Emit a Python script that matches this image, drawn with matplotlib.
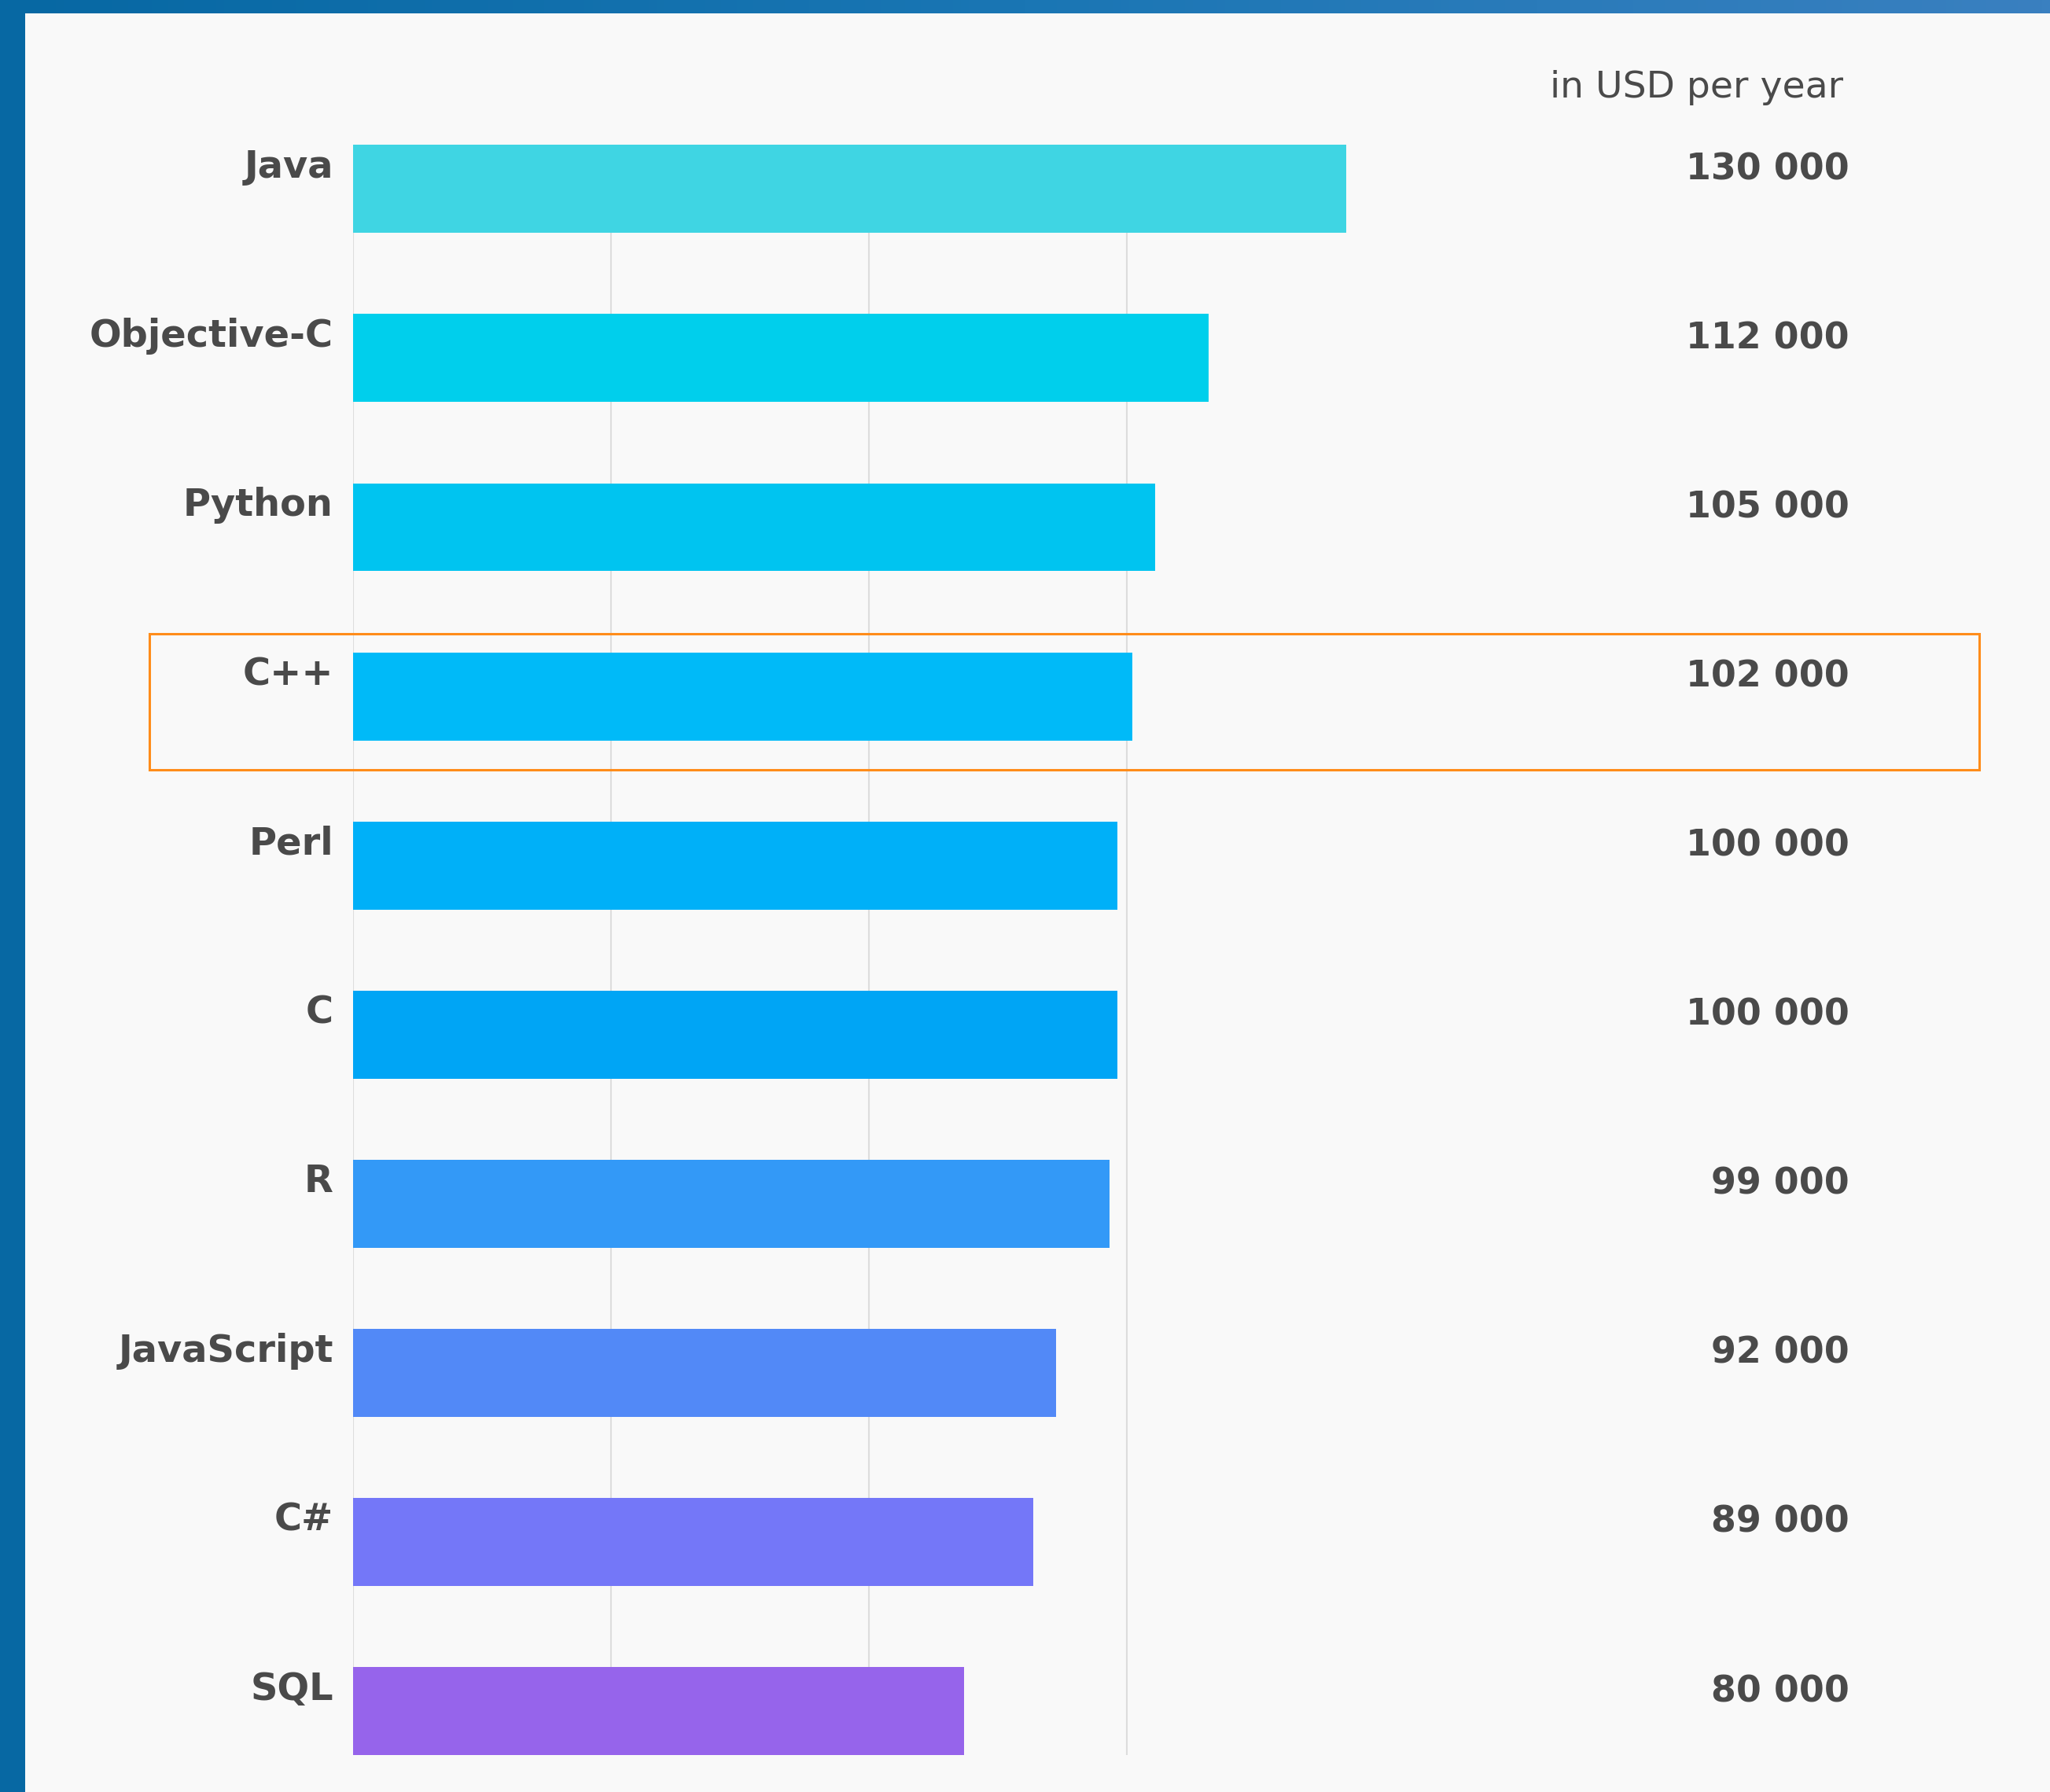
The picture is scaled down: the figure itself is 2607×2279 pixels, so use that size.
import numpy as np
import matplotlib
matplotlib.use("Agg")
import matplotlib.pyplot as plt
from matplotlib.patches import Rectangle
from matplotlib.colors import LinearSegmentedColormap
from matplotlib.transforms import blended_transform_factory

# ---------- DATA ----------
languages = ["Java", "Objective-C", "Python", "C++", "Perl", "C", "R",
             "JavaScript", "C#", "SQL"]
salaries = [130000, 112000, 105000, 102000, 100000, 100000, 99000,
            92000, 89000, 80000]
bar_colors = ["#3fd5e3", "#00cfec", "#00c4f0", "#00baf8", "#00b0f8",
              "#00a5f5", "#3399f7", "#5289f7", "#7477f8", "#9664eb"]
grid_vals = [33750, 67500, 101250]
unit_label = "in USD per year"
highlight = "C++"

W, H = 2607, 2279
fig = plt.figure(figsize=(W / 100, H / 100), dpi=100)
fig.patch.set_facecolor("#f9f9f9")

# ---------- BLUE FRAME ----------
frame = fig.add_axes([0, 0, 1, 1], zorder=0)
frame.set_xlim(0, W)
frame.set_ylim(H, 0)
frame.axis("off")
grad = np.linspace(0, 1, 256).reshape(1, -1)
blue_cmap = LinearSegmentedColormap.from_list("b", ["#0768a3", "#1a76b4", "#3a80c0"])
frame.imshow(grad, extent=[0, W, 17, 0], cmap=blue_cmap, aspect="auto")
frame.add_patch(Rectangle((0, 0), 32, H, color="#0768a3", lw=0))

# ---------- BARS ----------
ax = fig.add_axes([449 / W, 0.0026, 1 - 449 / W, 0.9439], zorder=1)
ax.set_facecolor("none")
px_per_usd = 0.009715
ax.set_xlim(0, (W - 449) / px_per_usd)
ax.set_ylim(9.45, -0.55)
for s in ax.spines.values():
    s.set_visible(False)
ax.set_xticks([])
ax.set_yticks([])

y = np.arange(len(languages))
ax.vlines([0] + grid_vals, -0.26, 9.26, color="#dddddd", lw=1.5, zorder=1)
ax.barh(y, salaries, height=0.52, color=bar_colors, zorder=2)

trans = blended_transform_factory(fig.transFigure, ax.transData)
for i, (lang, val) in enumerate(zip(languages, salaries)):
    ax.text(424 / W, i - 0.13, lang, transform=trans, ha="right", va="center",
            fontsize=34.5, fontweight="bold", color="#4a4a4a")
    ax.text(2352 / W, i - 0.115, f"{val:,}".replace(",", " "), transform=trans,
            ha="right", va="center", fontsize=33, fontweight="bold", color="#4a4a4a")

fig.text(2344 / W, 1 - 112 / H, unit_label, ha="right", va="center",
         fontsize=34, color="#4a4a4a")

# ---------- HIGHLIGHT BOX ----------
fig.patches.append(Rectangle((190 / W, 1 - 979 / H), 2327 / W, 173 / H,
                             transform=fig.transFigure, fill=False,
                             edgecolor="#ff8c1a", lw=2.2, zorder=5))

fig.savefig("out.png", dpi=100, facecolor=fig.get_facecolor())
